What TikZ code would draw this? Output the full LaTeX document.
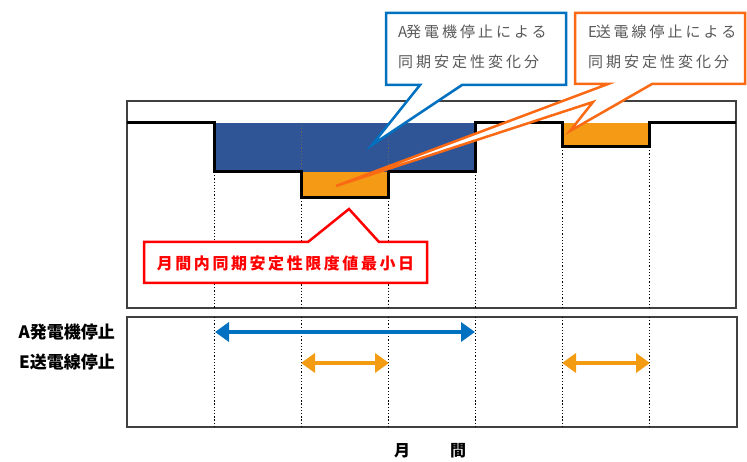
\documentclass[tikz,border=0pt]{standalone}
\usepackage{fontspec}
\setmainfont{Noto Sans CJK JP}
\usetikzlibrary{arrows.meta}
\definecolor{fillblue}{RGB}{47,85,151}
\definecolor{fillorange}{RGB}{244,154,20}
\definecolor{callblue}{RGB}{0,112,192}
\definecolor{callorange}{RGB}{250,105,20}
\definecolor{callred}{RGB}{255,0,0}
\definecolor{txtgray}{RGB}{89,89,89}
\definecolor{arrblue}{RGB}{0,112,192}
\definecolor{arrorange}{RGB}{243,156,18}
\begin{document}
\begin{tikzpicture}[x=1pt,y=-1pt,
  frame/.style={draw=black!75,line width=1.2pt},
  stepline/.style={draw=black,line width=3pt,line join=miter},
  guide/.style={draw=black,line width=1pt,dash pattern=on 1.3pt off 1.9pt},
  callout/.style={fill=white,line width=2.5pt,line join=miter},
  calltext/.style={anchor=west,inner sep=0pt,text=txtgray,font=\fontsize{15}{18}\selectfont\addfontfeatures{LetterSpace=20}},
  rowlabel/.style={anchor=east,inner sep=0pt,font=\fontsize{17}{20}\selectfont\bfseries},
  span/.style={line width=4.5pt,{Triangle[length=14pt,width=19pt]}-{Triangle[length=14pt,width=19pt]}}
]
\useasboundingbox (0,0) rectangle (747,462);
% fills
\fill[fillblue] (214,123) rectangle (475,172);
\fill[fillorange] (301,172) rectangle (388,198);
\fill[fillorange] (562,123) rectangle (649,147);
% frames
\draw[frame] (127,101) rectangle (736,308);
\draw[frame] (127,317) rectangle (737,427);
% guide lines
\draw[guide] (214,172) -- (214,308) (214,317) -- (214,427);
\draw[guide,draw=black!60] (301,125) -- (301,172);
\draw[guide] (301,198) -- (301,308) (301,317) -- (301,427);
\draw[guide,draw=black!60] (388,125) -- (388,172);
\draw[guide] (388,198) -- (388,308) (388,317) -- (388,427);
\draw[guide] (475,172) -- (475,308) (475,317) -- (475,427);
\draw[guide] (562,147) -- (562,308) (562,317) -- (562,427);
\draw[guide] (649,147) -- (649,308) (649,317) -- (649,427);
% step line
\draw[stepline] (127,123) -- (214,123) -- (214,172) -- (301,172) -- (301,198) -- (388,198)
  -- (388,172) -- (475,172) -- (475,123) -- (562,123) -- (562,147) -- (649,147) -- (649,123) -- (736,123);
% callouts
\draw[callout,draw=callblue] (386,13) -- (566,13) -- (566,85) -- (462,85) -- (372,145) -- (420,85) -- (386,85) -- cycle;
\draw[callout,draw=callorange] (575,13) -- (745,13) -- (745,84) -- (652,84) -- (570,131) -- (593,102) -- (336,186) -- (608,84) -- (575,84) -- cycle;
\draw[callout,draw=callred] (144,242) -- (308,242) -- (349,209) -- (379,242) -- (427,242) -- (427,283) -- (144,283) -- cycle;
\node[calltext] (a1) at (398,32) {A\kern-1.3pt 発電機停止による};
\node[calltext] (a2) at (398,62) {同期安定性変化分};
\node[calltext] (e1) at (588,32) {E\kern-1.3pt 送電線停止による};
\node[calltext] (e2) at (588,62) {同期安定性変化分};
\node[inner sep=0pt,text=callred,font=\fontsize{16}{18}\selectfont\bfseries\addfontfeatures{LetterSpace=16}] (minday) at (285.5,263) {月間内同期安定性限度値最小日};
% row labels
\node[rowlabel] (la) at (115,332) {A発電機停止};
\node[rowlabel] (le) at (115,362) {E送電線停止};
% arrows
\coordinate (as) at (215,332); \coordinate (ae) at (475,332);
\coordinate (es1) at (301,363); \coordinate (ee1) at (389,363);
\coordinate (es2) at (562,363); \coordinate (ee2) at (650,363);
\draw[span,arrblue] (as) -- (ae);
\draw[span,arrorange] (es1) -- (ee1);
\draw[span,arrorange] (es2) -- (ee2);
% axis label
\node[inner sep=0pt,font=\fontsize{16}{18}\selectfont\bfseries] (m1) at (402,451) {月};
\node[inner sep=0pt,font=\fontsize{16}{18}\selectfont\bfseries] (m2) at (458,451) {間};
\end{tikzpicture}
\end{document}
